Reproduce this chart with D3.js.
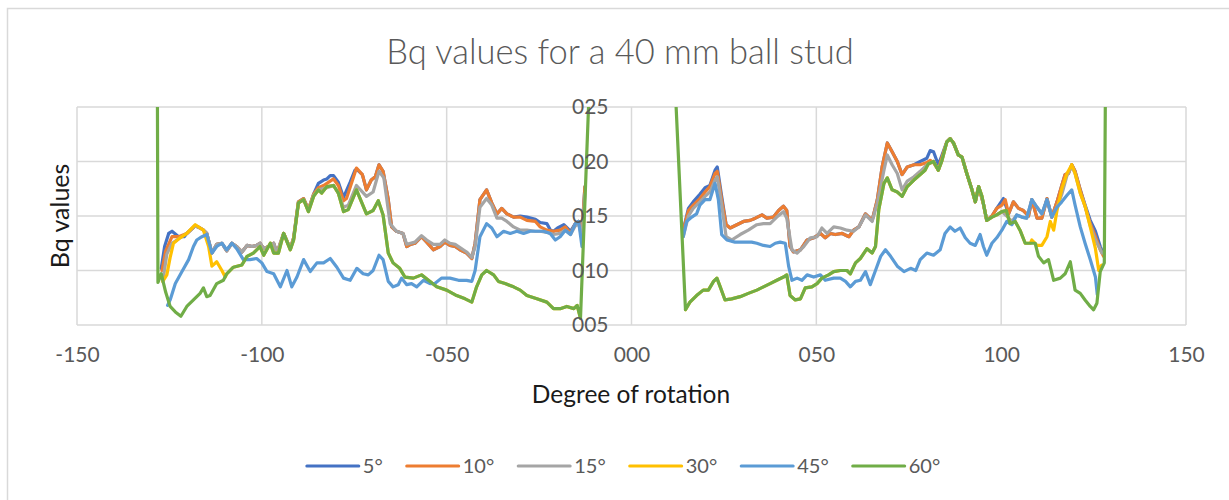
<!DOCTYPE html>
<html>
<head>
<meta charset="utf-8">
<script src="https://cdn.jsdelivr.net/npm/d3@7"></script>
<style>
  html, body { margin: 0; padding: 0; background: #fff; }
  svg { display: block; }
  text { font-family: Lato, "Open Sans", sans-serif; }
</style>
</head>
<body>
<svg id="chart" width="1229" height="500"></svg>
<script>
// Bq values by degree of rotation, one array per ball-stud angle.
// Each series has a negative-rotation run and a positive-rotation run, split by null.
const seriesNames = ["5°", "10°", "15°", "30°", "45°", "60°"];
const seriesColors = ["#4472c4", "#ed7d31", "#a5a5a5", "#ffc000", "#5b9bd5", "#70ad47"];
const xTicks = [-150, -100, -50, 0, 50, 100, 150];
const xTickLabels = ["-150", "-100", "-050", "000", "050", "100", "150"];
const yTicks = [0.05, 0.10, 0.15, 0.20, 0.25];
const yTickLabels = ["005", "010", "015", "020", "025"];

const deg5 = [
  [-127.2,0.102],[-126.3,0.122],[-125.2,0.134],[-124.3,0.136],[-122.5,0.131],[-121.0,0.131],[-120.3,0.134],
  [-118.0,0.141],[-116.7,0.139],[-115.8,0.137],[-114.9,0.134],[-113.5,0.116],[-112.2,0.124],[-110.8,0.125],
  [-109.5,0.118],[-108.1,0.125],[-106.8,0.122],[-105.4,0.117],[-104.0,0.123],[-102.7,0.122],[-101.4,0.123],
  [-100.5,0.125],[-99.5,0.120],[-98.2,0.122],[-96.8,0.125],[-95.9,0.116],[-94.1,0.134],[-92.3,0.120],
  [-91.4,0.130],[-90.1,0.163],[-88.7,0.166],[-87.4,0.156],[-86.0,0.170],[-84.7,0.180],[-83.3,0.183],
  [-82.4,0.184],[-81.5,0.187],[-80.6,0.187],[-79.3,0.181],[-77.9,0.167],[-76.1,0.181],[-74.8,0.192],
  [-74.4,0.193],[-72.8,0.188],[-71.7,0.174],[-70.4,0.183],[-69.3,0.186],[-68.3,0.197],[-67.2,0.191],
  [-65.8,0.165],[-64.9,0.140],[-63.6,0.136],[-61.8,0.134],[-60.8,0.122],[-59.8,0.124],[-58.6,0.125],
  [-56.8,0.131],[-55.4,0.126],[-53.6,0.119],[-51.8,0.122],[-50.5,0.126],[-49.1,0.123],[-47.7,0.122],
  [-46.4,0.119],[-44.6,0.116],[-43.2,0.111],[-42.3,0.125],[-41.0,0.165],[-39.2,0.174],[-37.8,0.162],
  [-36.4,0.152],[-35.1,0.157],[-33.7,0.152],[-31.9,0.149],[-30.1,0.150],[-28.3,0.149],[-26.0,0.147],
  [-24.7,0.144],[-22.9,0.143],[-21.9,0.137],[-21.1,0.136],[-20.0,0.139],[-18.3,0.142],[-16.5,0.136],
  [-15.2,0.143],[-14.3,0.145],[-13.4,0.135],[-12.6,0.177],
  null,
  [14.0,0.137],[15.4,0.157],[16.7,0.163],[18.5,0.170],[19.9,0.176],[21.2,0.178],[22.6,0.192],[23.2,0.195],
  [24.4,0.168],[25.6,0.142],[26.7,0.139],[28.5,0.142],[30.3,0.145],[32.1,0.146],[33.5,0.148],[35.3,0.151],
  [36.6,0.148],[38.4,0.149],[39.8,0.155],[41.1,0.159],[42.0,0.155],[42.9,0.122],[43.8,0.117],[45.7,0.119],
  [47.5,0.128],[49.3,0.130],[51.1,0.134],[52.4,0.130],[53.8,0.134],[55.1,0.133],[57.0,0.134],[58.8,0.131],
  [60.1,0.137],[61.5,0.140],[63.3,0.152],[65.1,0.146],[66.5,0.165],[67.8,0.195],[69.2,0.217],[70.5,0.209],
  [71.9,0.200],[73.2,0.188],[74.6,0.195],[76.4,0.197],[78.1,0.200],[79.9,0.203],[80.8,0.210],[81.7,0.209],
  [83.0,0.197],[83.9,0.205],[85.3,0.218],[86.2,0.221],[87.1,0.217],[88.4,0.206],[89.4,0.204],[90.7,0.189],
  [92.1,0.174],[93.0,0.163],[93.9,0.177],[95.2,0.161],[96.1,0.146],[97.5,0.150],[98.8,0.157],[100.6,0.166],
  [102.0,0.152],[103.3,0.163],[104.7,0.157],[106.0,0.155],[107.4,0.150],[108.3,0.165],[109.7,0.148],
  [111.0,0.148],[112.4,0.166],[113.7,0.149],[115.1,0.163],[116.4,0.178],[117.3,0.188],[118.2,0.189],
  [119.1,0.197],[120.0,0.191],[121.4,0.174],[122.7,0.160],[124.1,0.146],[125.5,0.136],[126.8,0.122],[127.7,0.115]
];

const deg10 = [
  [-127.0,0.100],[-126.0,0.118],[-124.3,0.131],[-122.5,0.131],[-120.3,0.134],[-118.0,0.141],[-116.7,0.139],
  [-115.8,0.137],[-114.9,0.134],[-113.5,0.116],[-112.2,0.124],[-110.8,0.125],[-109.5,0.118],[-108.1,0.125],
  [-106.8,0.122],[-105.4,0.117],[-104.0,0.123],[-102.7,0.122],[-101.4,0.123],[-100.5,0.125],[-99.5,0.120],
  [-98.2,0.122],[-96.8,0.125],[-95.9,0.116],[-94.1,0.134],[-92.3,0.120],[-91.4,0.130],[-90.1,0.163],
  [-88.7,0.166],[-87.4,0.156],[-86.0,0.170],[-84.7,0.176],[-83.3,0.178],[-82.4,0.180],[-80.6,0.184],
  [-79.3,0.178],[-77.9,0.164],[-77.1,0.166],[-74.4,0.194],[-72.8,0.188],[-71.7,0.174],[-70.4,0.183],
  [-69.3,0.186],[-68.3,0.197],[-67.2,0.191],[-65.8,0.165],[-64.9,0.140],[-63.6,0.136],[-61.8,0.134],
  [-60.8,0.122],[-59.8,0.124],[-58.6,0.125],[-56.8,0.131],[-55.4,0.126],[-53.6,0.119],[-51.8,0.122],
  [-50.5,0.126],[-49.1,0.123],[-47.7,0.122],[-46.4,0.119],[-44.6,0.116],[-43.2,0.111],[-42.3,0.125],
  [-41.0,0.165],[-39.2,0.174],[-37.8,0.162],[-36.4,0.152],[-35.1,0.157],[-33.7,0.152],[-31.9,0.149],
  [-30.1,0.149],[-28.3,0.146],[-26.0,0.145],[-24.7,0.140],[-22.9,0.137],[-21.1,0.136],[-19.3,0.137],
  [-17.9,0.140],[-16.5,0.134],[-15.2,0.143],[-14.3,0.145],[-13.4,0.135],[-12.6,0.177],
  null,
  [14.0,0.137],[15.4,0.155],[16.7,0.160],[18.5,0.166],[19.9,0.172],[21.2,0.177],[22.6,0.189],[23.2,0.191],
  [24.4,0.165],[25.6,0.142],[26.7,0.139],[28.5,0.142],[30.3,0.145],[32.1,0.146],[33.5,0.148],[35.3,0.151],
  [36.6,0.148],[38.4,0.149],[39.8,0.155],[41.1,0.159],[42.0,0.155],[42.9,0.122],[43.8,0.117],[45.7,0.119],
  [47.5,0.128],[49.3,0.130],[51.1,0.134],[52.4,0.130],[53.8,0.134],[55.1,0.133],[57.0,0.134],[58.8,0.131],
  [60.1,0.137],[61.5,0.140],[63.3,0.152],[65.1,0.146],[66.5,0.165],[67.8,0.195],[69.2,0.217],[70.5,0.209],
  [71.9,0.200],[73.2,0.188],[74.6,0.195],[76.4,0.197],[78.1,0.197],[79.9,0.199],[80.8,0.201],[81.7,0.199],
  [83.0,0.192],[83.9,0.203],[85.3,0.218],[86.2,0.221],[87.1,0.217],[88.4,0.206],[89.4,0.204],[90.7,0.189],
  [92.1,0.174],[93.0,0.163],[93.9,0.177],[95.2,0.161],[96.1,0.146],[97.5,0.150],[98.8,0.157],[100.2,0.160],
  [101.1,0.165],[102.0,0.152],[103.3,0.163],[104.7,0.157],[106.0,0.155],[107.4,0.150],[108.3,0.165],
  [109.7,0.148],[111.0,0.148],[112.4,0.166],[113.7,0.149],[115.1,0.163],[116.4,0.178],[117.3,0.188],
  [118.2,0.189],[119.1,0.197],[120.0,0.191],[121.4,0.174],[122.7,0.159],[124.1,0.143],[125.5,0.131],
  [126.8,0.119],[127.7,0.113]
];

const deg15 = [
  [-126.8,0.090],[-125.7,0.115],[-124.3,0.125],[-123.4,0.127],[-122.1,0.130],[-120.3,0.134],[-118.0,0.141],
  [-116.7,0.139],[-115.8,0.137],[-114.9,0.134],[-113.5,0.116],[-112.2,0.124],[-110.8,0.125],[-109.5,0.118],
  [-108.1,0.125],[-106.8,0.122],[-105.4,0.117],[-104.0,0.123],[-102.7,0.122],[-101.4,0.123],[-100.5,0.125],
  [-99.5,0.120],[-98.2,0.122],[-96.8,0.125],[-95.9,0.116],[-94.1,0.134],[-92.3,0.120],[-91.4,0.129],
  [-90.1,0.162],[-88.7,0.165],[-87.4,0.155],[-86.0,0.169],[-84.7,0.174],[-82.4,0.176],[-80.6,0.178],
  [-79.3,0.171],[-77.9,0.158],[-76.6,0.160],[-74.4,0.178],[-71.7,0.168],[-69.9,0.172],[-68.3,0.191],
  [-67.0,0.185],[-65.3,0.143],[-63.6,0.136],[-61.8,0.134],[-60.8,0.124],[-59.8,0.125],[-58.6,0.126],
  [-56.8,0.132],[-55.4,0.128],[-53.6,0.124],[-51.8,0.124],[-50.5,0.128],[-49.1,0.125],[-47.7,0.124],
  [-46.4,0.121],[-44.6,0.117],[-43.2,0.112],[-42.3,0.122],[-41.0,0.158],[-39.2,0.166],[-37.8,0.160],
  [-36.4,0.148],[-35.1,0.148],[-33.7,0.145],[-31.9,0.140],[-30.1,0.137],[-28.3,0.137],[-26.0,0.136],
  [-24.7,0.136],[-22.9,0.135],[-21.1,0.133],[-19.3,0.134],[-17.9,0.137],[-16.5,0.133],[-15.2,0.141],
  [-14.3,0.143],[-13.4,0.130],[-12.6,0.170],
  null,
  [14.0,0.131],[15.4,0.150],[16.7,0.157],[18.5,0.163],[19.9,0.168],[21.2,0.172],[22.6,0.183],[23.2,0.186],
  [24.4,0.160],[25.6,0.131],[27.1,0.128],[29.4,0.133],[31.6,0.137],[33.9,0.142],[35.7,0.143],[37.5,0.143],
  [39.3,0.149],[41.1,0.154],[42.0,0.148],[43.4,0.119],[44.8,0.116],[46.6,0.122],[48.4,0.130],[50.2,0.131],
  [51.5,0.139],[52.9,0.134],[54.7,0.140],[56.5,0.139],[58.3,0.137],[60.1,0.136],[61.5,0.140],[63.3,0.151],
  [65.1,0.145],[66.5,0.162],[68.3,0.192],[69.2,0.206],[70.5,0.197],[71.9,0.189],[73.2,0.174],[74.6,0.182],
  [76.4,0.186],[78.1,0.191],[79.9,0.197],[81.7,0.200],[83.0,0.192],[83.9,0.200],[85.3,0.218],[86.2,0.221],
  [87.1,0.217],[88.4,0.206],[89.4,0.204],[90.7,0.189],[92.1,0.174],[93.0,0.163],[93.9,0.177],[94.8,0.168],
  [96.1,0.146],[97.5,0.149],[98.8,0.151],[100.2,0.154],[101.5,0.150],[102.9,0.145],[104.2,0.151],
  [105.6,0.149],[106.9,0.148],[108.3,0.165],[109.7,0.158],[111.0,0.152],[112.4,0.165],[113.7,0.149],
  [115.1,0.158],[116.4,0.170],[117.8,0.187],[119.1,0.196],[120.0,0.189],[121.4,0.171],[122.7,0.159],
  [124.1,0.141],[125.5,0.128],[126.4,0.122],[127.3,0.116]
];

const deg30 = [
  [-126.8,0.090],[-125.7,0.096],[-124.8,0.112],[-123.9,0.125],[-122.1,0.130],[-120.3,0.134],[-118.0,0.142],
  [-116.7,0.139],[-115.8,0.137],[-114.4,0.122],[-113.5,0.104],[-112.2,0.108],[-110.8,0.100],[-109.9,0.094],
  [-109.5,0.097],[-107.7,0.103],[-105.4,0.105],[-104.0,0.113],[-102.3,0.116],[-100.5,0.122],[-99.5,0.114],
  [-97.7,0.125],[-96.8,0.116],[-95.5,0.116],[-94.1,0.134],[-92.3,0.119],[-91.4,0.128],[-90.1,0.162],
  [-88.7,0.165],[-87.4,0.154],[-86.0,0.168],[-84.7,0.174],[-83.8,0.171],[-82.4,0.177],[-80.6,0.178],
  [-79.3,0.171],[-77.9,0.154],[-76.6,0.156],[-74.4,0.174],[-71.7,0.152],[-69.9,0.155],[-68.5,0.164],
  [-67.2,0.151],[-65.8,0.116],[-64.5,0.107],[-62.7,0.102],[-61.3,0.094],[-59.0,0.093],[-56.8,0.096],
  [-54.5,0.090],[-52.7,0.085],[-50.0,0.082],[-47.3,0.077],[-45.0,0.074],[-43.2,0.071],[-41.9,0.085],
  [-40.5,0.096],[-39.2,0.100],[-37.3,0.096],[-36.0,0.090],[-34.2,0.088],[-31.9,0.085],[-30.1,0.082],
  [-28.3,0.077],[-25.6,0.074],[-22.9,0.071],[-21.1,0.065],[-19.3,0.065],[-17.5,0.067],[-15.6,0.065],
  [-14.7,0.068],[-13.8,0.056],
  null,
  [14.6,0.064],[15.8,0.071],[17.6,0.077],[19.4,0.082],[20.8,0.082],[22.2,0.090],[23.1,0.093],[24.0,0.085],
  [25.3,0.073],[27.1,0.074],[29.4,0.076],[31.6,0.079],[33.9,0.082],[35.7,0.085],[37.5,0.088],[39.3,0.091],
  [41.1,0.094],[42.0,0.096],[42.9,0.077],[44.3,0.073],[45.7,0.074],[47.0,0.084],[48.8,0.085],[50.2,0.088],
  [51.5,0.093],[53.3,0.096],[54.7,0.099],[56.5,0.100],[58.3,0.100],[59.2,0.097],[60.6,0.107],[61.9,0.111],
  [63.7,0.120],[65.1,0.116],[66.0,0.122],[66.9,0.156],[68.3,0.180],[69.2,0.185],[70.5,0.174],[71.9,0.172],
  [73.2,0.168],[74.6,0.177],[76.4,0.183],[78.1,0.188],[79.4,0.192],[80.3,0.198],[81.7,0.200],[83.0,0.192],
  [83.9,0.200],[85.3,0.218],[86.2,0.221],[87.1,0.217],[88.4,0.206],[89.4,0.204],[90.7,0.189],[92.1,0.174],
  [93.0,0.163],[93.9,0.177],[94.8,0.168],[96.1,0.146],[97.5,0.149],[98.8,0.151],[100.2,0.154],[101.4,0.155],
  [102.4,0.143],[103.8,0.145],[105.1,0.137],[106.5,0.125],[107.9,0.125],[108.3,0.128],[109.7,0.123],
  [111.0,0.123],[112.4,0.131],[113.3,0.145],[114.2,0.137],[115.1,0.155],[116.4,0.175],[117.8,0.189],
  [119.1,0.197],[120.0,0.189],[121.4,0.171],[122.7,0.159],[124.1,0.140],[125.5,0.120],[126.4,0.100],[127.2,0.105]
];

const deg45 = [
  [-125.5,0.068],[-124.8,0.073],[-123.4,0.088],[-121.6,0.099],[-119.8,0.110],[-118.5,0.122],[-117.6,0.128],
  [-116.2,0.131],[-114.9,0.133],[-113.5,0.116],[-112.2,0.122],[-110.8,0.125],[-109.5,0.119],[-108.1,0.125],
  [-106.8,0.120],[-105.0,0.110],[-103.2,0.110],[-101.4,0.111],[-100.0,0.107],[-98.6,0.099],[-96.8,0.097],
  [-95.0,0.085],[-93.2,0.100],[-91.9,0.085],[-90.5,0.094],[-88.7,0.110],[-86.9,0.099],[-85.1,0.107],
  [-83.3,0.107],[-81.5,0.111],[-79.7,0.103],[-77.9,0.093],[-76.1,0.091],[-74.3,0.102],[-72.6,0.097],
  [-71.2,0.096],[-69.9,0.100],[-68.3,0.114],[-67.2,0.110],[-65.8,0.090],[-64.5,0.085],[-63.1,0.087],
  [-62.2,0.093],[-60.8,0.087],[-59.5,0.088],[-58.1,0.085],[-56.3,0.091],[-54.5,0.088],[-53.2,0.088],
  [-51.4,0.093],[-49.1,0.093],[-46.8,0.091],[-44.6,0.091],[-43.2,0.090],[-42.3,0.100],[-41.0,0.131],
  [-39.2,0.143],[-37.8,0.139],[-36.4,0.131],[-34.6,0.136],[-32.8,0.134],[-31.0,0.136],[-29.2,0.134],
  [-27.4,0.136],[-25.6,0.136],[-23.8,0.136],[-22.0,0.134],[-20.6,0.128],[-19.3,0.131],[-17.9,0.137],
  [-16.5,0.133],[-15.2,0.143],[-14.3,0.145],[-13.4,0.122],
  null,
  [14.0,0.131],[14.9,0.145],[16.3,0.149],[17.6,0.152],[18.5,0.160],[19.9,0.165],[21.2,0.165],[22.6,0.180],
  [23.5,0.165],[24.4,0.133],[25.8,0.128],[28.0,0.126],[30.3,0.126],[32.5,0.126],[33.9,0.125],[35.7,0.123],
  [37.5,0.122],[38.9,0.125],[40.2,0.126],[41.6,0.125],[42.5,0.104],[43.4,0.091],[44.8,0.093],[46.1,0.091],
  [47.5,0.096],[49.3,0.094],[51.1,0.096],[52.4,0.091],[54.7,0.093],[56.5,0.093],[57.9,0.090],[59.2,0.085],
  [60.6,0.090],[61.9,0.091],[63.3,0.099],[64.6,0.087],[66.0,0.100],[67.4,0.113],[68.7,0.119],[70.1,0.113],
  [71.9,0.104],[73.7,0.099],[75.5,0.102],[76.9,0.100],[78.1,0.110],[79.9,0.116],[81.7,0.114],[83.5,0.119],
  [84.8,0.134],[86.2,0.140],[87.5,0.136],[88.9,0.139],[90.3,0.130],[91.6,0.125],[93.0,0.123],[94.3,0.133],
  [95.2,0.122],[96.1,0.114],[97.5,0.125],[98.8,0.130],[100.2,0.137],[101.5,0.145],[102.9,0.142],[104.2,0.151],
  [105.6,0.149],[106.9,0.148],[108.3,0.165],[109.7,0.158],[111.0,0.152],[112.4,0.165],[113.7,0.149],
  [115.1,0.158],[116.4,0.163],[117.8,0.169],[119.1,0.174],[120.0,0.160],[121.4,0.140],[122.7,0.125],
  [124.1,0.110],[125.5,0.094],[126.0,0.078]
];

const deg60 = [
  [-128.3,0.320],[-128.1,0.089],[-127.2,0.097],[-126.0,0.080],[-124.8,0.067],[-123.4,0.062],[-121.9,0.058],
  [-120.3,0.067],[-118.5,0.073],[-116.7,0.079],[-115.8,0.084],[-114.9,0.076],[-114.0,0.077],[-112.2,0.088],
  [-110.4,0.091],[-109.5,0.097],[-107.7,0.103],[-105.4,0.105],[-104.0,0.113],[-102.3,0.116],[-100.5,0.122],
  [-99.5,0.114],[-97.7,0.125],[-96.8,0.116],[-95.5,0.116],[-94.1,0.134],[-92.3,0.119],[-91.4,0.128],
  [-90.1,0.162],[-88.7,0.165],[-87.4,0.154],[-86.0,0.168],[-84.7,0.174],[-83.8,0.171],[-82.4,0.177],
  [-80.6,0.178],[-79.3,0.171],[-77.9,0.154],[-76.6,0.156],[-74.4,0.174],[-71.7,0.152],[-69.9,0.155],
  [-68.5,0.164],[-67.2,0.151],[-65.8,0.116],[-64.5,0.107],[-62.7,0.102],[-61.3,0.094],[-59.0,0.093],
  [-56.8,0.096],[-54.5,0.090],[-52.7,0.085],[-50.0,0.082],[-47.3,0.077],[-45.0,0.074],[-43.2,0.071],
  [-41.9,0.085],[-40.5,0.096],[-39.2,0.100],[-37.3,0.096],[-36.0,0.090],[-34.2,0.088],[-31.9,0.085],
  [-30.1,0.082],[-28.3,0.077],[-25.6,0.074],[-22.9,0.071],[-21.1,0.065],[-19.3,0.065],[-17.5,0.067],
  [-15.6,0.065],[-14.7,0.068],[-13.8,0.056],[-11.4,0.270],
  null,
  [11.8,0.270],[14.6,0.064],[15.8,0.071],[17.6,0.077],[19.4,0.082],[20.8,0.082],[22.2,0.090],[23.1,0.093],
  [24.0,0.085],[25.3,0.073],[27.1,0.074],[29.4,0.076],[31.6,0.079],[33.9,0.082],[35.7,0.085],[37.5,0.088],
  [39.3,0.091],[41.1,0.094],[42.0,0.096],[42.9,0.077],[44.3,0.073],[45.7,0.074],[47.0,0.084],[48.8,0.085],
  [50.2,0.088],[51.5,0.093],[53.3,0.096],[54.7,0.099],[56.5,0.100],[58.3,0.100],[59.2,0.097],[60.6,0.107],
  [61.9,0.111],[63.7,0.120],[65.1,0.116],[66.0,0.122],[66.9,0.156],[68.3,0.180],[69.2,0.185],[70.5,0.174],
  [71.9,0.172],[73.2,0.168],[74.6,0.177],[76.4,0.183],[78.1,0.188],[79.4,0.192],[80.3,0.198],[81.7,0.200],
  [83.0,0.192],[83.9,0.200],[85.3,0.218],[86.2,0.221],[87.1,0.217],[88.4,0.206],[89.4,0.204],[90.7,0.189],
  [92.1,0.174],[93.0,0.163],[93.9,0.177],[94.8,0.168],[96.1,0.146],[97.5,0.149],[98.8,0.151],[100.2,0.154],
  [101.4,0.155],[102.4,0.143],[103.8,0.145],[105.1,0.137],[106.5,0.125],[107.9,0.125],[109.2,0.125],
  [110.1,0.113],[111.5,0.107],[112.8,0.110],[114.2,0.091],[116.0,0.093],[117.3,0.097],[118.7,0.108],
  [120.0,0.082],[121.4,0.079],[122.7,0.073],[124.1,0.067],[125.0,0.064],[125.9,0.070],[126.8,0.099],
  [127.9,0.107],[128.3,0.320]
];

const seriesData = [deg5, deg10, deg15, deg30, deg45, deg60];

const svg = d3.select("#chart");
const W = 1229, H = 500;
const plot = { left: 77, right: 1186, top: 107, bottom: 325 };

svg.append("rect").attr("width", W).attr("height", H).attr("fill", "#fff");
// chart-area border
svg.append("rect")
  .attr("x", 7.5).attr("y", 8.5).attr("width", W + 20).attr("height", H + 20)
  .attr("fill", "none").attr("stroke", "#d9d9d9").attr("stroke-width", 1.5);

const x = d3.scaleLinear().domain([-150, 150]).range([plot.left, plot.right]);
const y = d3.scaleLinear().domain([0.05, 0.25]).range([plot.bottom, plot.top]);

// gridlines
const grid = svg.append("g").attr("stroke", "#d9d9d9").attr("stroke-width", 1.5);
grid.selectAll("line.h").data(yTicks).join("line").attr("class", "h")
  .attr("x1", plot.left).attr("x2", plot.right)
  .attr("y1", d => y(d)).attr("y2", d => y(d));
grid.selectAll("line.v").data(xTicks).join("line").attr("class", "v")
  .attr("y1", plot.top).attr("y2", plot.bottom)
  .attr("x1", d => x(d)).attr("x2", d => x(d));

// series lines, clipped to the plot area
svg.append("defs").append("clipPath").attr("id", "plotClip")
  .append("rect").attr("x", plot.left).attr("y", plot.top)
  .attr("width", plot.right - plot.left).attr("height", plot.bottom - plot.top);

const line = d3.line()
  .defined(d => d !== null)
  .x(d => x(d[0])).y(d => y(d[1]));

const lines = svg.append("g").attr("clip-path", "url(#plotClip)");
seriesData.forEach((data, i) => {
  lines.append("path")
    .attr("d", line(data))
    .attr("fill", "none")
    .attr("stroke", seriesColors[i])
    .attr("stroke-width", 3.2)
    .attr("stroke-linejoin", "round")
    .attr("stroke-linecap", "round");
});

// y tick labels sit beside the vertical axis at x = 0
const yAxis = d3.axisLeft(y).tickValues(yTicks)
  .tickFormat((d, i) => yTickLabels[i]).tickSize(0).tickPadding(0);
const yAxisG = svg.append("g").attr("transform", `translate(${x(0) - 23},0)`).call(yAxis);
yAxisG.select(".domain").remove();
yAxisG.selectAll("text").attr("fill", "#595959").style("font-size", "21px")
  .style("font-family", "Lato, sans-serif");

const xAxis = d3.axisBottom(x).tickValues(xTicks)
  .tickFormat((d, i) => xTickLabels[i]).tickSize(0).tickPadding(0);
const xAxisG = svg.append("g").attr("transform", `translate(0,${plot.bottom + 22})`).call(xAxis);
xAxisG.select(".domain").remove();
xAxisG.selectAll("text").attr("fill", "#595959").style("font-size", "21px")
  .style("font-family", "Lato, sans-serif");

// titles
svg.append("text").attr("x", 620).attr("y", 64).attr("text-anchor", "middle")
  .attr("fill", "#595959").style("font-size", "34.5px").style("font-weight", 300)
  .text("Bq values for a 40 mm ball stud");
svg.append("text").attr("x", 631).attr("y", 403).attr("text-anchor", "middle")
  .attr("fill", "#1a1a1a").style("font-size", "24.5px")
  .text("Degree of rotation");
svg.append("text").attr("transform", "translate(69,216) rotate(-90)").attr("text-anchor", "middle")
  .attr("fill", "#1a1a1a").style("font-size", "25px")
  .text("Bq values");

// legend
const legend = svg.append("g");
const legendY = 466;
const items = legend.selectAll("g").data(seriesNames).join("g");
items.append("line").attr("x1", 0).attr("x2", 52).attr("y1", legendY).attr("y2", legendY)
  .attr("stroke", (d, i) => seriesColors[i]).attr("stroke-width", 3).attr("stroke-linecap", "round");
items.append("text").attr("x", 56).attr("y", legendY).attr("dy", "0.35em")
  .attr("fill", "#595959").style("font-size", "20px").text(d => d);
let cx = 0;
const offsets = [];
items.each(function () {
  offsets.push(cx);
  const tw = d3.select(this).select("text").node().getComputedTextLength();
  cx += 56 + tw + 24;
});
const totalW = cx - 24;
const startX = 623.5 - totalW / 2;
items.attr("transform", (d, i) => `translate(${startX + offsets[i]},0)`);
</script>
</body>
</html>
